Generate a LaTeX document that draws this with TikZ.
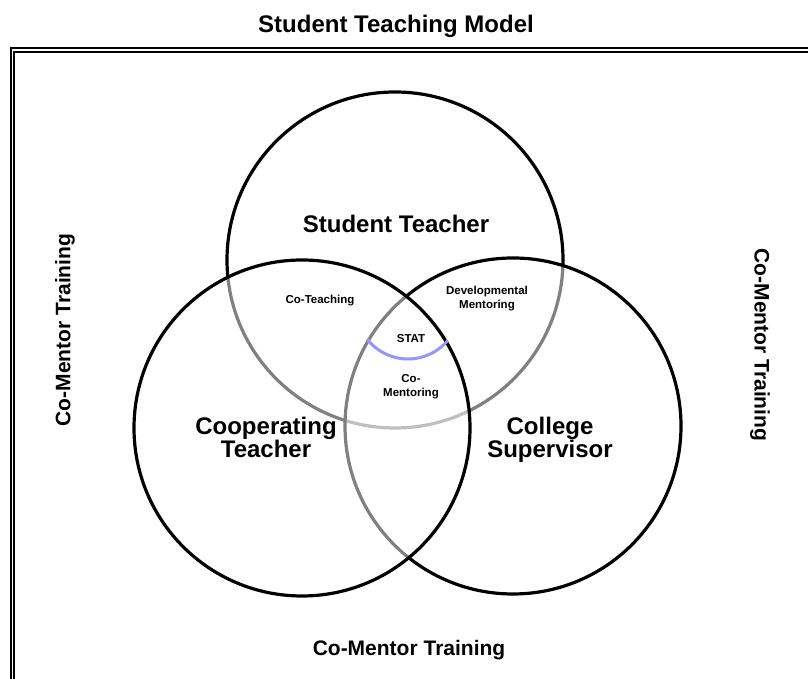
\documentclass[tikz,border=0pt]{standalone}
\usepackage{fontspec}
\setmainfont{Liberation Sans}
\usepackage{xcolor}
\usepackage{tikz}
\usetikzlibrary{positioning}
\definecolor{statblue}{RGB}{150,150,250}

\begin{document}
\begin{tikzpicture}[x=1pt, y=1pt,
  ring/.style={circle, draw, line width=3.2pt, minimum size=336pt, inner sep=0pt},
  veil/.style={fill=white, fill opacity=0.5},
  biglabel/.style={font=\fontsize{24}{23}\selectfont\bfseries, align=center, inner sep=0pt},
  smalllabel/.style={font=\fontsize{11.5}{14}\selectfont\bfseries, align=center, inner sep=0pt},
  sidelabel/.style={font=\fontsize{21}{24}\selectfont\bfseries, inner sep=0pt}]
\clip (0,0) rectangle (808,679);
\draw[double, line width=1.7pt, double distance=1.8pt] (12.5,629) rectangle (840,-40);
\node[ring] (student) at (395,419) {};
\node[ring, veil] (college) at (513,253) {};
\node[ring, veil] (coop) at (302,251) {};
\coordinate (statc) at (408,372);
\draw[line width=3pt, statblue] (statc) ++(218:52) arc (218:320:52);
\node[biglabel, anchor=base] (title) at (396,646) {Student Teaching Model};
\node[biglabel, anchor=base] (stlabel) at (396,446) {Student Teacher};
\node[biglabel] (ctlabel) at (266,241.4) {Cooperating\\Teacher};
\node[biglabel] (cslabel) at (550,239) {College\\Supervisor};
\node[smalllabel, anchor=base] (coteach) at (320,375) {Co-Teaching};
\node[smalllabel] (devment) at (487,380.5) {Developmental\\Mentoring};
\node[smalllabel, anchor=base] (stat) at (411,336) {STAT};
\node[smalllabel] (coment) at (411,292.5) {Co-\\Mentoring};
\node[sidelabel, rotate=90] (trainleft) at (65,349) {Co-Mentor Training};
\node[sidelabel, rotate=-90] (trainright) at (760,334) {Co-Mentor Training};
\node[sidelabel, anchor=base] (trainbottom) at (409,23) {Co-Mentor Training};
\end{tikzpicture}
\end{document}
